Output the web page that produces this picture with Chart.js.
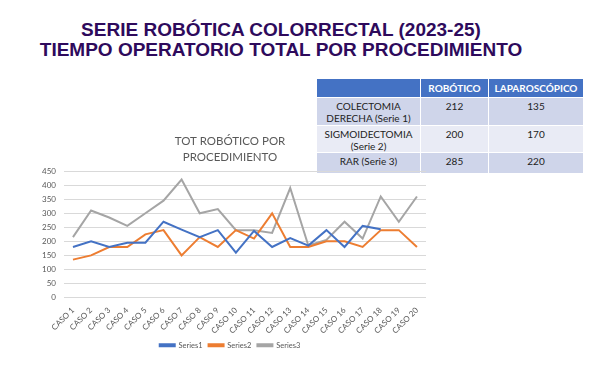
<!DOCTYPE html>
<html>
<head>
<meta charset="utf-8">
<title>Serie robótica colorrectal</title>
<script src="https://cdn.jsdelivr.net/npm/chart.js"></script>
<style>
  body { margin: 0; width: 589px; height: 392px; background: #fff; position: relative; overflow: hidden; }
  #title { position: absolute; left: 0; top: 20px; width: 562px; text-align: center;
           font-family: "Liberation Sans", Arial, sans-serif; font-weight: bold; font-size: 19px;
           line-height: 20px; color: #2E0A5C; }
  #tabla { position: absolute; left: 316px; top: 79px; border-collapse: collapse;
           font-family: Lato, "Open Sans", sans-serif; font-size: 10px; color: #222; }
  #tabla th { background: #4472C4; color: #fff; font-weight: bold; height: 18px; padding: 0; border-left: 1px solid #fff; }
  #tabla td { text-align: center; vertical-align: top; padding: 2px 0 0 0; border-left: 1px solid #fff; border-top: 1px solid #fff; line-height: 12px; }
  #tabla tr.a td { background: #CFD5EA; }
  #tabla tr.b td { background: #E9EBF5; }
  #chartBox { position: absolute; left: 10px; top: 131px; width: 430px; height: 228px; }
</style>
</head>
<body>
<div id="title">SERIE ROBÓTICA COLORRECTAL (2023-25)<br>TIEMPO OPERATORIO TOTAL POR PROCEDIMIENTO</div>

<table id="tabla">
  <tr><th style="width:103px"></th><th style="width:67px">ROBÓTICO</th><th style="width:94px">LAPAROSCÓPICO</th></tr>
  <tr class="a" style="height:28px"><td>COLECTOMIA<br>DERECHA (Serie 1)</td><td>212</td><td>135</td></tr>
  <tr class="b" style="height:27px"><td>SIGMOIDECTOMIA<br>(Serie 2)</td><td>200</td><td>170</td></tr>
  <tr class="a" style="height:20px"><td>RAR (Serie 3)</td><td>285</td><td>220</td></tr>
</table>

<div id="chartBox"><canvas id="grafico"></canvas></div>

<script>
  const casos = ['CASO 1','CASO 2','CASO 3','CASO 4','CASO 5','CASO 6','CASO 7','CASO 8','CASO 9','CASO 10',
                 'CASO 11','CASO 12','CASO 13','CASO 14','CASO 15','CASO 16','CASO 17','CASO 18','CASO 19','CASO 20'];
  // colectomia derecha (solo 18 casos)
  const series1 = [180, 200, 180, 195, 195, 270, 242, 215, 240, 160, 237, 180, 212, 185, 240, 180, 255, 243, null, null];
  // sigmoidectomia
  const series2 = [135, 150, 180, 180, 225, 240, 150, 215, 180, 240, 210, 300, 180, 180, 200, 200, 180, 240, 240, 180];
  // RAR
  const series3 = [215, 310, 285, 255, 300, 345, 420, 300, 315, 240, 240, 230, 390, 185, 205, 270, 210, 360, 270, 360];
  const yTicks = [0, 50, 100, 150, 200, 250, 300, 350, 400, 450];

  const gris = '#595959';
  function serie(nombre, datos, color) {
    return { label: nombre, data: datos, borderColor: color, backgroundColor: color,
             borderWidth: 2, pointRadius: 0, tension: 0, spanGaps: false };
  }

  new Chart(document.getElementById('grafico'), {
    type: 'line',
    data: {
      labels: casos,
      datasets: [
        serie('Series1', series1, '#4472C4'),
        serie('Series2', series2, '#ED7D31'),
        serie('Series3', series3, '#A5A5A5')
      ]
    },
    options: {
      responsive: true,
      maintainAspectRatio: false,
      animation: false,
      layout: { padding: { left: 24, right: 14, top: 0, bottom: 0 } },
      plugins: {
        title: { display: true, text: ['TOT ROBÓTICO POR', 'PROCEDIMIENTO'], color: gris,
                 font: { family: 'Lato', size: 11.5, weight: 'normal', lineHeight: 1.4 }, padding: { top: 2, bottom: 6 } },
        legend: { position: 'bottom',
                  labels: { color: gris, font: { family: 'Lato', size: 7.5 }, boxWidth: 15, boxHeight: 2, padding: 6 } },
        tooltip: { enabled: false }
      },
      scales: {
        x: {
          offset: true,
          grid: { display: false },
          border: { display: false },
          ticks: { color: gris, font: { family: 'Lato', size: 8 }, maxRotation: 45, minRotation: 45, autoSkip: false, padding: 0 }
        },
        y: {
          min: 0, max: 450,
          afterBuildTicks: (ax) => { ax.ticks = yTicks.map(v => ({ value: v })); },
          grid: { color: '#D9D9D9', drawTicks: false },
          border: { display: false },
          ticks: { color: gris, font: { family: 'Lato', size: 8 }, padding: 8 }
        }
      }
    }
  });
</script>
</body>
</html>
